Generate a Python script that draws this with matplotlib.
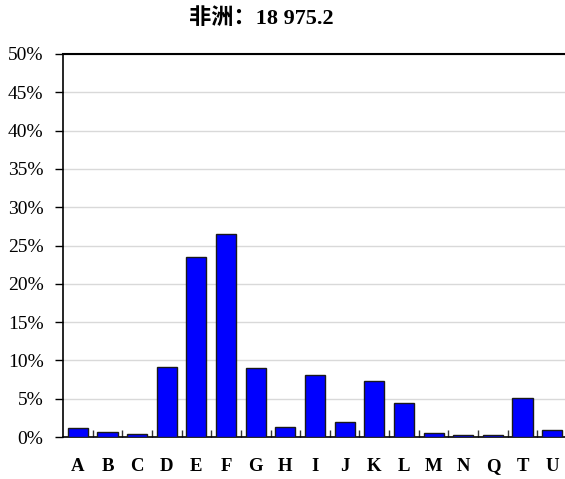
import matplotlib
matplotlib.use("Agg")
import matplotlib.pyplot as plt
import numpy as np
from matplotlib.ticker import FixedLocator, FuncFormatter

categories = ["A", "B", "C", "D", "E", "F", "G", "H", "I", "J", "K", "L", "M", "N", "Q", "T", "U"]
values = [1.2, 0.6, 0.4, 9.1, 23.5, 26.5, 9.0, 1.3, 8.1, 2.0, 7.3, 4.4, 0.5, 0.2, 0.2, 5.1, 0.9]
title = "非洲：18 975.2"

plt.rcParams['font.family'] = ['Liberation Serif', 'Noto Sans CJK SC']

fig = plt.figure(figsize=(5.65, 4.79), dpi=100)
ax = fig.add_axes([63/565, 42/479, 504/565, 383/479])

x = np.arange(len(categories))
ax.bar(x, values, width=0.68, color="#0000FF", edgecolor="#1a1a1a", linewidth=1.0, zorder=3)

ax.set_xlim(-0.5, len(categories) - 0.5)
ax.set_ylim(0, 50)
ax.set_yticks(np.arange(0, 51, 5))
ax.yaxis.set_major_formatter(FuncFormatter(lambda v, p: f"{int(v)}%"))
ax.grid(axis="y", color="#d9d9d9", linewidth=1.0, zorder=0)

ax.set_xticks(x)
ax.set_xticklabels(categories, fontweight="bold", fontsize=13.5)
ax.tick_params(axis="x", which="major", length=0, pad=15)
ax.xaxis.set_minor_locator(FixedLocator(x[1:] - 0.5))
ax.tick_params(axis="x", which="minor", direction="in", length=5, width=1, color="#333333")
ax.tick_params(axis="y", which="major", direction="out", length=6, width=1, labelsize=14, pad=8)

ax.spines["right"].set_visible(False)
ax.spines["top"].set_linewidth(1.5)
ax.spines["left"].set_linewidth(1.2)
ax.spines["bottom"].set_linewidth(1.2)

fig.text(261/565, 1 - 19/479, title, ha="center", va="center", fontsize=16, fontweight="bold")

fig.savefig("out.png", dpi=100)
